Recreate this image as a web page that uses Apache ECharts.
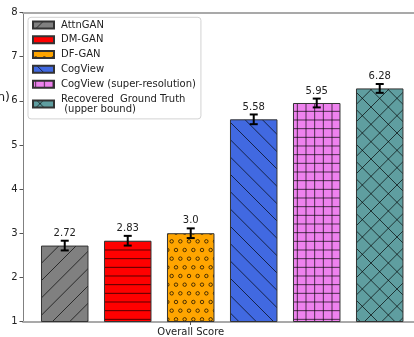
<!DOCTYPE html>
<html>
<head>
<meta charset="utf-8">
<script src="https://cdn.jsdelivr.net/npm/echarts@6/dist/echarts.min.js"></script>
<style>
  html, body { margin: 0; padding: 0; background: #fff; }
  #chart { width: 414px; height: 337px; }
</style>
</head>
<body>
<div id="chart"></div>
<script>
// Models compared and their overall human-evaluation scores
const models = [
  'AttnGAN',
  'DM-GAN',
  'DF-GAN',
  'CogView',
  'CogView (super-resolution)',
  'Recovered  Ground Truth\n (upper bound)'
];
const scores = [2.72, 2.83, 3.0, 5.58, 5.95, 6.28];
const scoreErrors = [0.11, 0.11, 0.11, 0.11, 0.1, 0.1];
const xTickLabels = ['Overall Score'];
const yTicks = [1, 2, 3, 4, 5, 6, 7, 8];

const FONT = 'DejaVu Sans';
const TILE = 52;          // hatch repeat unit
const STEP = TILE / 6;    // hatch line spacing
const HATCH_COLOR = 'rgba(0,0,0,0.8)';

// Build a repeating hatch fill on a small canvas
function hatch(bg, draw) {
  const c = document.createElement('canvas');
  c.width = TILE; c.height = TILE;
  const ctx = c.getContext('2d');
  ctx.fillStyle = bg;
  ctx.fillRect(0, 0, TILE, TILE);
  ctx.strokeStyle = HATCH_COLOR;
  ctx.lineWidth = 0.85;
  draw(ctx);
  return { image: c, repeat: 'repeat' };
}
const X0 = 2.67, Y0 = 7.33;   // phase of the hatch grid
function diagNE(ctx, c0) {     // lines x + y = c
  ctx.beginPath();
  for (let c = c0 - 2 * STEP * 2; c < 2 * TILE + 4 * STEP; c += 2 * STEP) {
    ctx.moveTo(c + 10, -10);
    ctx.lineTo(c - TILE - 10, TILE + 10);
  }
  ctx.stroke();
}
function diagSE(ctx, d0) {     // lines x - y = d
  ctx.beginPath();
  for (let d = d0 - TILE - 4 * STEP; d < TILE + 4 * STEP; d += 2 * STEP) {
    ctx.moveTo(d - 10, -10);
    ctx.lineTo(d + TILE + 10, TILE + 10);
  }
  ctx.stroke();
}
function horiz(ctx) {
  ctx.beginPath();
  for (let k = 0; k < 6; k++) {
    const y = Y0 + k * STEP;
    ctx.moveTo(0, y); ctx.lineTo(TILE, y);
  }
  ctx.stroke();
}
function vert(ctx) {
  ctx.beginPath();
  for (let k = 0; k < 6; k++) {
    const x = X0 + k * STEP;
    ctx.moveTo(x, 0); ctx.lineTo(x, TILE);
  }
  ctx.stroke();
}
function circles(ctx) {
  const r = STEP * 0.2;
  for (let row = -1; row <= 7; row++) {
    const y = Y0 + row * STEP;
    const shift = (((row % 2) + 2) % 2) ? STEP / 2 : 0;
    for (let k = -1; k <= 7; k++) {
      const x = X0 + shift + k * STEP;
      ctx.beginPath();
      ctx.arc(x, y, r, 0, Math.PI * 2);
      ctx.stroke();
    }
  }
}

const fills = [
  hatch('#808080', ctx => diagNE(ctx, 10)),
  hatch('#ff0000', ctx => horiz(ctx)),
  hatch('#ffa500', ctx => circles(ctx)),
  hatch('#4169e1', ctx => diagSE(ctx, 4)),
  hatch('#ee82ee', ctx => { horiz(ctx); vert(ctx); }),
  hatch('#5f9ea0', ctx => { diagNE(ctx, 10); diagSE(ctx, 4); })
];

const X_MIN = -0.6625, X_MAX = 5.544;
const TICK_AT = 2;  // x tick sits under the third bar

const barSeries = models.map((name, i) => ({
  type: 'bar',
  name: name,
  data: [[i, scores[i]]],
  barWidth: 47.5,
  barGap: '-100%',
  clip: true,
  itemStyle: { color: fills[i], borderColor: '#333', borderWidth: 1 },
  emphasis: { disabled: true },
  z: 2
}));

const fmt = v => Number.isInteger(v) ? v.toFixed(1) : String(v);

const errorSeries = {
  type: 'custom',
  name: 'error',
  data: scores.map((v, i) => [i, v, scoreErrors[i]]),
  encode: { x: 0, y: 1 },
  clip: false,
  z: 5,
  silent: true,
  renderItem: function (params, api) {
    const x = api.value(0), v = api.value(1), e = api.value(2);
    const top = api.coord([x, v + e]);
    const bot = api.coord([x, v - e]);
    const cap = 4;
    const st = { stroke: '#000', lineWidth: 2 };
    return {
      type: 'group',
      children: [
        { type: 'line', shape: { x1: top[0], y1: top[1], x2: bot[0], y2: bot[1] }, style: st },
        { type: 'line', shape: { x1: top[0] - cap, y1: top[1], x2: top[0] + cap, y2: top[1] }, style: st },
        { type: 'line', shape: { x1: bot[0] - cap, y1: bot[1], x2: bot[0] + cap, y2: bot[1] }, style: st },
        {
          type: 'text', x: top[0], y: top[1] - 7.5,
          style: {
            text: fmt(v), align: 'center', verticalAlign: 'middle',
            font: '10px "' + FONT + '"', fill: '#222'
          }
        }
      ]
    };
  }
};

const chart = echarts.init(document.getElementById('chart'), null, { renderer: 'canvas' });
chart.setOption({
  animation: false,
  backgroundColor: '#fff',
  textStyle: { fontFamily: FONT },
  grid: { left: 23, right: 0, top: 12.5, bottom: 14.3 },
  legend: {
    data: models,
    orient: 'vertical',
    left: 28,
    top: 17.3,
    padding: [2.5, 5, 4.5, 4],
    itemGap: 4.5,
    itemWidth: 21,
    itemHeight: 7,
    icon: 'rect',
    backgroundColor: 'rgba(255,255,255,0.8)',
    borderColor: '#d3d3d3',
    borderWidth: 1,
    borderRadius: 3,
    selectedMode: false,
    textStyle: {
      fontFamily: FONT, fontSize: 10, color: '#222',
      lineHeight: 10.3, padding: [0, 0, 0, 2]
    }
  },
  graphic: [{
    type: 'text',
    x: 10, y: 97.5,
    style: {
      text: 'Score (Human Evaluation)',
      align: 'right', verticalAlign: 'middle',
      font: '12.5px "' + FONT + '"', fill: '#222'
    }
  }],
  xAxis: [{
    type: 'value',
    position: 'bottom',
    min: X_MIN, max: X_MAX,
    axisLine: { show: true, onZero: false, lineStyle: { color: '#a9a9a9', width: 2 } },
    axisTick: { show: true, customValues: [TICK_AT], length: 3.5, lineStyle: { color: '#555' } },
    axisLabel: {
      show: true, customValues: [TICK_AT],
      formatter: () => xTickLabels[0],
      fontFamily: FONT, fontSize: 10, color: '#222', margin: 5.5
    },
    splitLine: { show: false }
  }, {
    type: 'value',
    position: 'top',
    min: X_MIN, max: X_MAX,
    axisLine: { show: true, onZero: false, lineStyle: { color: '#a9a9a9', width: 2 } },
    axisTick: { show: false },
    axisLabel: { show: false },
    splitLine: { show: false }
  }],
  yAxis: {
    type: 'value',
    position: 'left',
    min: yTicks[0], max: yTicks[yTicks.length - 1], interval: 1,
    axisLine: { show: true, onZero: false, lineStyle: { color: '#808080', width: 1 } },
    axisTick: { show: true, length: 3.5, lineStyle: { color: '#555' } },
    axisLabel: { fontFamily: FONT, fontSize: 10, color: '#222', margin: 5.5 },
    splitLine: { show: false }
  },
  series: barSeries.concat([errorSeries])
});
</script>
</body>
</html>
